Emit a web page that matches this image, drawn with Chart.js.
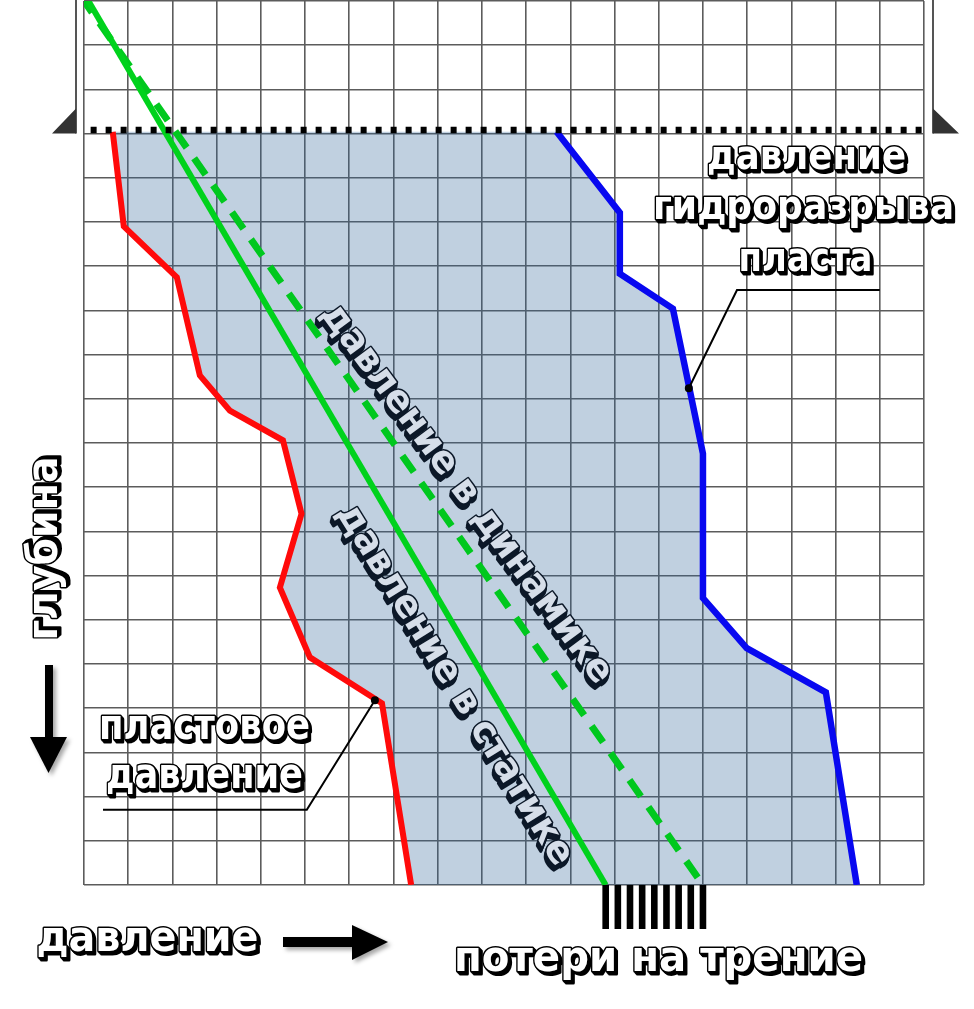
<!DOCTYPE html>
<html>
<head>
<meta charset="utf-8">
<script src="https://cdn.jsdelivr.net/npm/chart.js@4.4.1/dist/chart.umd.min.js"></script>
<style>
  html, body { margin: 0; padding: 0; background: #fff; }
  canvas { display: block; }
</style>
</head>
<body>
<canvas id="grafik" width="974" height="1009"></canvas>
<script>
// Сетка: давление по X (клетки), глубина по Y (клетки, вниз)
const kletkiX = 19;
const kletkiY = 20;

// Пластовое давление (красная линия)
const plastX = [0.65, 0.9, 2.1, 2.62, 3.3, 4.5, 4.92, 4.43, 5.11, 6.74, 7.4];
const plastY = [2.96, 5.1, 6.25, 8.47, 9.27, 9.94, 11.6, 13.27, 14.85, 15.89, 20];

// Давление гидроразрыва пласта (синяя линия)
const gidroX = [10.69, 12.12, 12.12, 13.32, 14.0, 14.0, 14.99, 16.78, 17.48];
const gidroY = [2.96, 4.79, 6.17, 6.96, 10.24, 13.51, 14.64, 15.64, 20];

// Давление в статике (сплошная зелёная) и в динамике (пунктир)
const statikaX = [0.1, 11.8];
const statikaY = [0, 20];
const dinamikaX = [0, 14.0];
const dinamikaY = [0, 20];

// Кровля пласта (чёрный пунктир)
const krovlyaX = [0.15, 19];
const krovlyaY = [2.92, 2.92];

// Выноски к подписям
const vynoskaGidroX = [13.68, 14.77, 18.0];
const vynoskaGidroY = [8.76, 6.54, 6.54];
const vynoskaPlastX = [6.58, 5.04, 0.43];
const vynoskaPlastY = [15.82, 18.3, 18.3];

// Число штрихов "потери на трение"
const shtrihov = 9;

const toXY = (xs, ys) => xs.map((v, i) => ({ x: v, y: ys[i] }));

// Подписи: текст, центр (px), ширина, угол
const podpisi = [
  { t: 'давление', cx: 808, cy: 160, w: 205, s: 40, a: 0, vid: 'bel' },
  { t: 'гидроразрыва', cx: 805, cy: 210, w: 307, s: 40, a: 0, vid: 'bel' },
  { t: 'пласта', cx: 807, cy: 262, w: 140, s: 40, a: 0, vid: 'bel' },
  { t: 'пластовое', cx: 206, cy: 729, w: 217, s: 42, a: 0, vid: 'bel' },
  { t: 'давление', cx: 206, cy: 778, w: 203, s: 42, a: 0, vid: 'bel' },
  { t: 'давление', cx: 149, cy: 941, w: 228, s: 42, a: 0, vid: 'bel' },
  { t: 'потери на трение', cx: 660, cy: 961, w: 415, s: 42, a: 0, vid: 'bel' },
  { t: 'глубина', cx: 47, cy: 550, w: 190, s: 42, a: -90, vid: 'bel' },
  { t: 'давление в динамике', cx: 468, cy: 495, w: 470, s: 38, a: 53.4, vid: 'tem' },
  { t: 'давление в статике', cx: 456, cy: 686, w: 424, s: 38, a: 58.3, vid: 'tem' }
];

function risuyPodpis(ctx, p) {
  const cvet = p.vid === 'bel'
    ? { lico: '#ffffff', kontur: '#000000', ten: '#000000', sloi: 3 }
    : { lico: '#d6dee9', kontur: '#0c1828', ten: '#0c1828', sloi: 4 };
  ctx.save();
  ctx.translate(p.cx - 1.5, p.cy - 1.5);
  ctx.rotate(p.a * Math.PI / 180);
  ctx.font = 'bold ' + p.s + 'px "DejaVu Sans"';
  ctx.textAlign = 'center';
  ctx.textBaseline = 'alphabetic';
  ctx.lineJoin = 'round';
  const shir = ctx.measureText(p.t).width;
  ctx.scale((p.w - 6) / shir, 1);
  const baza = 0.2735 * p.s;
  // объёмная тень
  ctx.fillStyle = cvet.ten;
  ctx.strokeStyle = cvet.ten;
  ctx.lineWidth = 3;
  for (let i = 1; i <= cvet.sloi; i++) {
    ctx.strokeText(p.t, i, baza + i);
    ctx.fillText(p.t, i, baza + i);
  }
  ctx.strokeStyle = cvet.kontur;
  ctx.lineWidth = 3;
  ctx.strokeText(p.t, 0, baza);
  ctx.fillStyle = cvet.lico;
  ctx.fillText(p.t, 0, baza);
  ctx.restore();
}

const oformlenie = {
  id: 'oformlenie',
  afterDraw(chart) {
    const { ctx, chartArea: ca, scales: { x, y } } = chart;
    ctx.save();

    // скобки с треугольниками у кровли пласта
    const yK = y.getPixelForValue(3);
    const xL = ca.left - 8, xR = ca.right + 9;
    ctx.strokeStyle = '#555';
    ctx.lineWidth = 2;
    ctx.beginPath();
    ctx.moveTo(xL, 0); ctx.lineTo(xL, yK);
    ctx.moveTo(xR, 0); ctx.lineTo(xR, yK);
    ctx.stroke();
    ctx.fillStyle = '#333';
    ctx.beginPath();
    ctx.moveTo(xL - 24, yK); ctx.lineTo(xL, yK - 25); ctx.lineTo(xL, yK); ctx.closePath();
    ctx.moveTo(xR, yK - 25); ctx.lineTo(xR + 26, yK); ctx.lineTo(xR, yK); ctx.closePath();
    ctx.fill();

    // штрихи потерь на трение между концами зелёных линий
    const x0 = x.getPixelForValue(statikaX[statikaX.length - 1]);
    const x1 = x.getPixelForValue(dinamikaX[dinamikaX.length - 1]);
    ctx.fillStyle = '#000';
    for (let i = 0; i < shtrihov; i++) {
      const cx = x0 + (x1 - x0) * i / (shtrihov - 1);
      ctx.fillRect(cx - 3.3, ca.bottom, 6.6, 44);
    }

    // стрелки
    ctx.shadowColor = 'rgba(0,0,0,0.35)';
    ctx.shadowBlur = 4;
    ctx.shadowOffsetX = 3;
    ctx.shadowOffsetY = 3;
    ctx.fillStyle = '#000';
    ctx.fillRect(45, 665, 8, 73);
    ctx.beginPath();
    ctx.moveTo(30, 737); ctx.lineTo(67, 737); ctx.lineTo(48.5, 773); ctx.closePath();
    ctx.fill();
    ctx.fillRect(283, 937, 70, 10);
    ctx.beginPath();
    ctx.moveTo(352, 925); ctx.lineTo(388, 942); ctx.lineTo(352, 960); ctx.closePath();
    ctx.fill();
    ctx.restore();

    podpisi.forEach(p => risuyPodpis(ctx, p));
  }
};

const liniya = (data, color, width, extra) => Object.assign({
  data: data,
  showLine: true,
  borderColor: color,
  borderWidth: width,
  pointRadius: 0,
  tension: 0,
  fill: false,
  order: 1
}, extra || {});

// Заливка между пластовым давлением и давлением гидроразрыва
const oblast = toXY(plastX, plastY).concat(toXY(gidroX, gidroY).reverse());

new Chart(document.getElementById('grafik'), {
  type: 'scatter',
  data: {
    datasets: [
      liniya(oblast, 'rgba(0,0,0,0)', 0, { fill: 'shape', backgroundColor: 'rgba(52,103,155,0.31)', order: 10 }),
      liniya(toXY(plastX, plastY), '#ff0a0a', 6, { borderJoinStyle: 'miter' }),
      liniya(toXY(gidroX, gidroY), '#0808f0', 6.5, { borderJoinStyle: 'miter' }),
      liniya(toXY(statikaX, statikaY), '#00d21c', 6),
      liniya(toXY(dinamikaX, dinamikaY), '#00c81e', 7, { borderDash: [20, 13], borderDashOffset: 6 }),
      liniya(toXY(krovlyaX, krovlyaY), '#000', 6.5, { borderDash: [6, 9], order: 0 }),
      liniya(toXY(vynoskaGidroX, vynoskaGidroY), '#000', 2, { pointRadius: [3, 0, 0], pointBackgroundColor: '#000', order: 0 }),
      liniya(toXY(vynoskaPlastX, vynoskaPlastY), '#000', 2, { pointRadius: [3, 0, 0], pointBackgroundColor: '#000', order: 0 })
    ]
  },
  options: {
    responsive: false,
    animation: false,
    layout: { autoPadding: false, padding: { left: 84, right: 50, top: 1, bottom: 124 } },
    plugins: { legend: { display: false }, tooltip: { enabled: false } },
    scales: {
      x: {
        type: 'linear', min: 0, max: kletkiX,
        ticks: { display: false, stepSize: 1 },
        grid: { color: '#5c5c5c', lineWidth: 1.6, drawTicks: false },
        border: { display: false }
      },
      y: {
        type: 'linear', min: 0, max: kletkiY, reverse: true,
        ticks: { display: false, stepSize: 1 },
        grid: { color: '#5c5c5c', lineWidth: 1.6, drawTicks: false },
        border: { display: false }
      }
    }
  },
  plugins: [oformlenie]
});
</script>
</body>
</html>
